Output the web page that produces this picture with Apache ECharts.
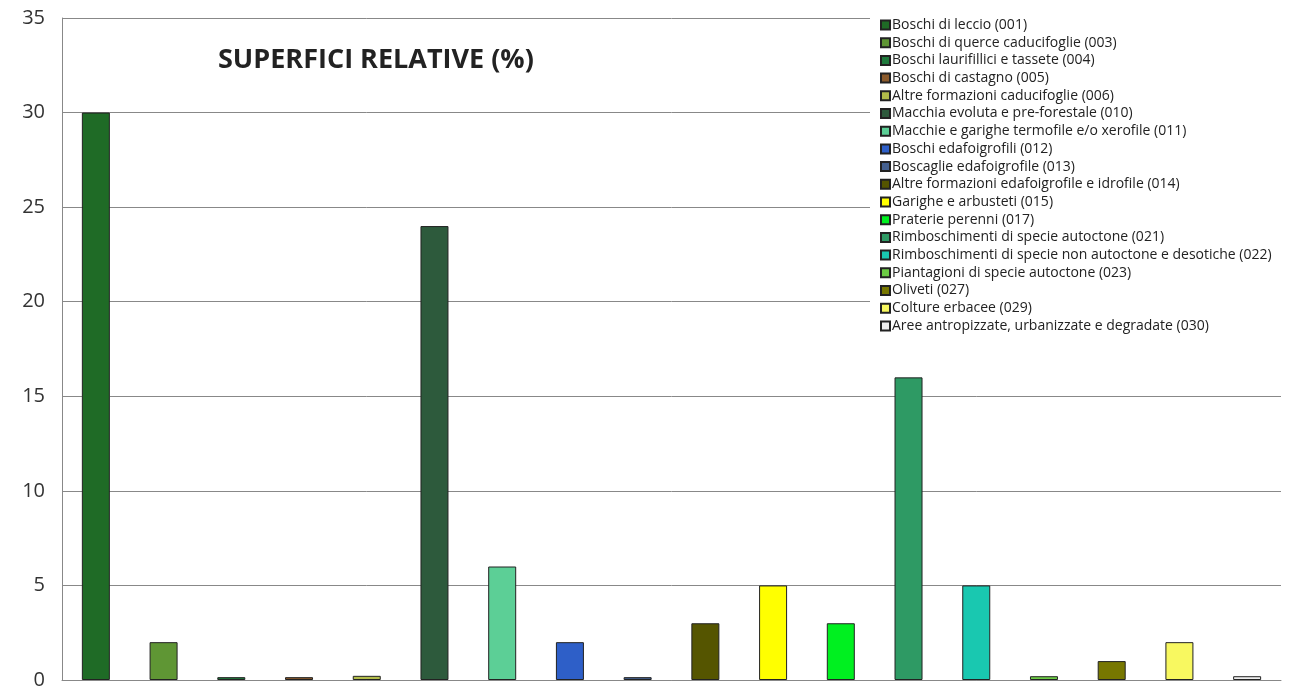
<!DOCTYPE html>
<html>
<head>
<meta charset="utf-8">
<script src="https://cdn.jsdelivr.net/npm/echarts@6/dist/echarts.min.js"></script>
<style>
  html, body { margin: 0; padding: 0; background: #fff; }
  #chart { width: 1289px; height: 691px; }
</style>
</head>
<body>
<div id="chart"></div>
<script>
// Land-cover classes and their share of the total surface (%)
const categories = [
  'Boschi di leccio (001)',
  'Boschi di querce caducifoglie (003)',
  'Boschi laurifillici e tassete (004)',
  'Boschi di castagno (005)',
  'Altre formazioni caducifoglie (006)',
  'Macchia evoluta e pre-forestale (010)',
  'Macchie e garighe termofile e/o xerofile (011)',
  'Boschi edafoigrofili (012)',
  'Boscaglie edafoigrofile (013)',
  'Altre formazioni edafoigrofile e idrofile (014)',
  'Garighe e arbusteti (015)',
  'Praterie perenni (017)',
  'Rimboschimenti di specie autoctone (021)',
  'Rimboschimenti di specie non autoctone e desotiche (022)',
  'Piantagioni di specie autoctone (023)',
  'Oliveti (027)',
  'Colture erbacee (029)',
  'Aree antropizzate, urbanizzate e degradate (030)'
];
const values = [30, 2, 0.15, 0.15, 0.22, 24, 6, 2, 0.15, 3, 5, 3, 16, 5, 0.2, 1, 2, 0.2];
const colors = [
  '#1f6b26', '#5f9634', '#1f7a3c', '#8b5a2b', '#b3bd4a', '#2d5a3c',
  '#5ccf96', '#2e5fc8', '#44608f', '#555500', '#ffff00', '#00f020',
  '#2e9a64', '#19c8b0', '#6ccc44', '#777700', '#f8f860', '#eeeeee'
];
const yTicks = [0, 5, 10, 15, 20, 25, 30, 35];

const chart = echarts.init(document.getElementById('chart'));

// One series per class, stacked so each sits alone in its own slot
const series = categories.map((name, i) => ({
  name: name,
  type: 'bar',
  stack: 'all',
  barWidth: 28,
  itemStyle: { color: colors[i], borderColor: '#222', borderWidth: 1 },
  data: categories.map((c, j) => (j === i ? values[i] : '-'))
}));

chart.setOption({
  animation: false,
  backgroundColor: '#fff',
  title: {
    text: 'SUPERFICI RELATIVE (%)',
    left: 218,
    top: 47,
    padding: 0,
    textStyle: { fontFamily: 'Open Sans', fontWeight: 'bold', fontSize: 27, color: '#222' }
  },
  grid: { left: 62, right: 8, top: 18, bottom: 11 },
  legend: {
    orient: 'vertical',
    left: 870,
    top: 4,
    padding: [14, 30, 8, 10],
    backgroundColor: '#fff',
    itemWidth: 9,
    itemHeight: 9,
    itemGap: 3.7,
    icon: 'rect',
    textStyle: { fontFamily: 'Open Sans', fontSize: 14, color: '#222', padding: [0, 0, 0, -3], lineHeight: 14 },
    data: categories
  },
  xAxis: {
    type: 'category',
    data: categories,
    axisLine: { show: true, lineStyle: { color: '#888', width: 1 } },
    axisTick: { show: false },
    axisLabel: { show: false }
  },
  yAxis: {
    type: 'value',
    min: yTicks[0],
    max: yTicks[yTicks.length - 1],
    interval: 5,
    axisLine: { show: true, lineStyle: { color: '#888', width: 1 } },
    axisTick: { show: false },
    axisLabel: { fontFamily: 'Open Sans', fontSize: 20, color: '#333', margin: 17 },
    splitLine: { show: true, lineStyle: { color: '#888', width: 1 } }
  },
  series: series
});
</script>
</body>
</html>
